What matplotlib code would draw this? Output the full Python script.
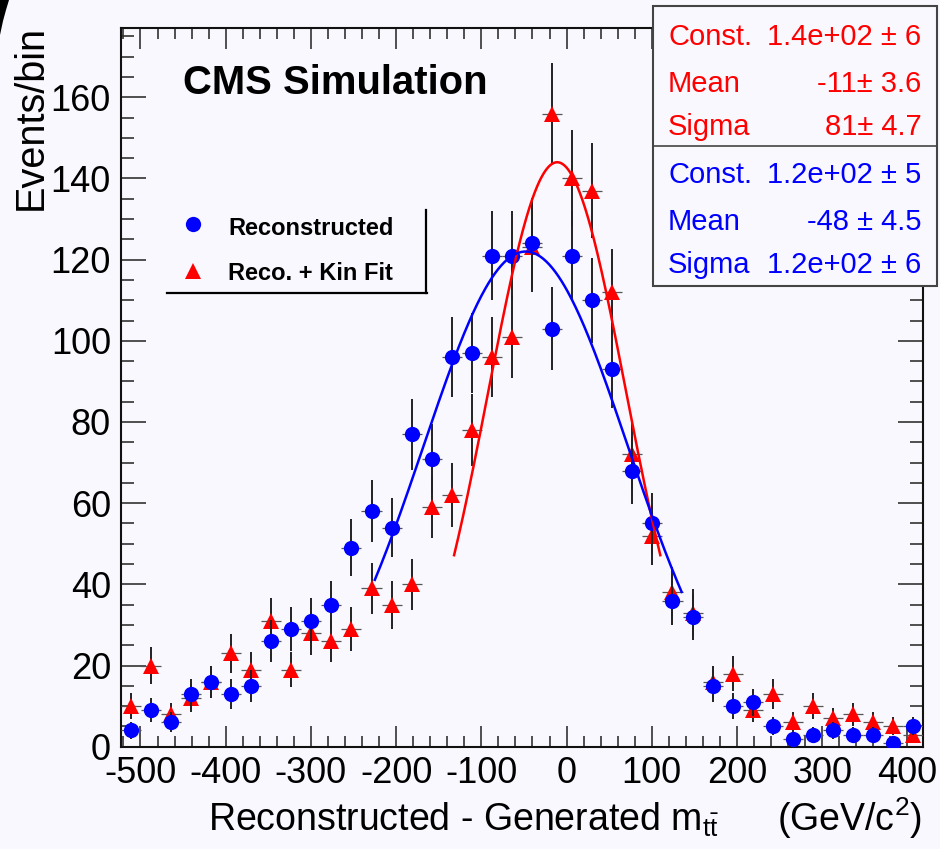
import numpy as np
import matplotlib.pyplot as plt
from matplotlib.lines import Line2D
from matplotlib.patches import Rectangle, Polygon
from matplotlib.ticker import MultipleLocator

plt.rcParams['font.family'] = ['Liberation Sans', 'DejaVu Sans']
plt.rcParams['mathtext.fontset'] = 'custom'
plt.rcParams['mathtext.rm'] = 'Liberation Sans'
plt.rcParams['mathtext.it'] = 'Liberation Sans'
plt.rcParams['mathtext.default'] = 'regular'
plt.rcParams['axes.unicode_minus'] = False

# histogram binning (GeV/c^2)
x_lo, x_hi = -523.2, 418.6
n_bins = 40

# events per bin
reco = [4, 9, 6, 13, 16, 13, 15, 26, 29, 31,
        35, 49, 58, 54, 77, 71, 96, 97, 121, 121,
        124, 103, 121, 110, 93, 68, 55, 36, 32, 15,
        10, 11, 5, 2, 3, 4, 3, 3, 1, 5]
kinfit = [10, 20, 8, 12, 16, 23, 19, 31, 19, 28,
          26, 29, 39, 35, 40, 59, 62, 78, 96, 101,
          123, 156, 140, 137, 112, 72, 52, 38, 33, 16,
          18, 9, 13, 6, 10, 7, 8, 6, 5, 3]

# gaussian fit results (const, mean, sigma) and fit ranges
reco_fit = [122, -48, 120]
reco_fit_range = [-225, 135]
kinfit_fit = [144, -11, 81]
kinfit_fit_range = [-132, 110]

stat_names = ['Const.', 'Mean', 'Sigma']
kinfit_stats = ['1.4e+02 \u00b1 6', '-11\u00b1 3.6', '81\u00b1 4.7']
reco_stats = ['1.2e+02 \u00b1 5', '-48 \u00b1 4.5', '1.2e+02 \u00b1 6']

W, H = 940, 849
bg = '#f8f8fe'


def fx(px):
    return px / W


def fy(py):
    return 1 - py / H


def gaus(x, c, m, s):
    return c * np.exp(-0.5 * ((x - m) / s) ** 2)


edges = np.linspace(x_lo, x_hi, n_bins + 1)
centers = 0.5 * (edges[1:] + edges[:-1])
half = 0.5 * (edges[1] - edges[0])
reco = np.array(reco)
kinfit = np.array(kinfit)

fig = plt.figure(figsize=(W / 100, H / 100), dpi=100, facecolor=bg)
ax = fig.add_axes([fx(120.7), fy(746.7), (923.3 - 120.7) / W, (746.7 - 28.3) / H])
ax.set_facecolor(bg)

for vals, col, mk, ms, z in [(kinfit, 'red', '^', 11.5, 3), (reco, 'blue', 'o', 11, 5)]:
    ax.errorbar(centers, vals, xerr=half, fmt='none', ecolor='#555555',
                elinewidth=0.9, zorder=z)
    ax.errorbar(centers, vals, yerr=np.sqrt(vals), fmt='none', ecolor='#222222',
                elinewidth=1.4, zorder=z)
    ax.plot(centers, vals, ls='none', marker=mk, ms=ms, color=col,
            markeredgewidth=0, zorder=z + 1)

xs = np.linspace(kinfit_fit_range[0], kinfit_fit_range[1], 300)
ax.plot(xs, gaus(xs, *kinfit_fit), color='red', lw=1.8, zorder=7)
xs = np.linspace(reco_fit_range[0], reco_fit_range[1], 300)
ax.plot(xs, gaus(xs, *reco_fit), color='blue', lw=1.8, zorder=8)

ax.set_xlim(x_lo, x_hi)
ax.set_ylim(0, 177)
ax.xaxis.set_major_locator(MultipleLocator(100))
ax.xaxis.set_minor_locator(MultipleLocator(20))
ax.yaxis.set_major_locator(MultipleLocator(20))
ax.yaxis.set_minor_locator(MultipleLocator(5))
ax.tick_params(which='both', direction='in', top=True, right=True,
               color='#333333', width=1.2, labelsize=26)
ax.tick_params(axis='x', which='major', length=15, pad=7)
ax.tick_params(axis='x', which='minor', length=8)
ax.tick_params(axis='y', which='major', length=18, pad=7)
ax.tick_params(axis='y', which='minor', length=9.5)
for sp in ax.spines.values():
    sp.set_linewidth(1.5)
    sp.set_color('#111111')

# x title, split in two pieces to follow the wide spacing of the original
fig.text(fx(208), fy(831), r'Reconstructed - Generated m$_{t\bar{t}}$',
         ha='left', va='baseline', fontsize=27)
fig.text(fx(922), fy(831), r'(GeV/c$^{2}$)', ha='right', va='baseline', fontsize=27)
fig.text(fx(12), fy(25), 'Events/bin', rotation=90, ha='left', va='top', fontsize=28.5)

fig.text(fx(183), fy(94), 'CMS Simulation', fontsize=28.8, fontweight='bold',
         ha='left', va='baseline')

# legend
ax.plot([fx(192.7)], [fy(224)], marker='o', ms=11, color='blue', ls='none',
        transform=fig.transFigure, markeredgewidth=0, clip_on=False)
ax.plot([fx(192.7)], [fy(270.7)], marker='^', ms=11, color='red', ls='none',
        transform=fig.transFigure, markeredgewidth=0, clip_on=False)
fig.text(fx(228), fy(235), 'Reconstructed', fontsize=17, fontweight='bold', va='baseline')
fig.text(fx(228), fy(280), 'Reco. + Kin Fit', fontsize=17, fontweight='bold', va='baseline')
fig.add_artist(Line2D([fx(167), fx(427)], [fy(293), fy(293)], color='black', lw=1.6))
fig.add_artist(Line2D([fx(426), fx(426)], [fy(210), fy(293)], color='black', lw=1.6))

# stats box
fig.add_artist(Rectangle((fx(653), fy(286)), 284 / W, 280 / H, transform=fig.transFigure,
                         facecolor=bg, edgecolor='#444444', lw=1.5, zorder=10))
fig.add_artist(Line2D([fx(653), fx(937)], [fy(145.7), fy(145.7)], color='#444444',
                      lw=1.2, zorder=11))
base_y = [45, 91.7, 135, 183.3, 230, 273.3]
rows = [(n, v, 'red') for n, v in zip(stat_names, kinfit_stats)] + \
       [(n, v, 'blue') for n, v in zip(stat_names, reco_stats)]
for (name, val, col), by in zip(rows, base_y):
    fig.text(fx(668), fy(by), name, color=col, fontsize=21, va='baseline', zorder=12)
    fig.text(fx(921.5), fy(by), val, color=col, fontsize=21, va='baseline',
             ha='right', zorder=12)

# dark rounded corner in the top left of the image
fig.add_artist(Polygon([(fx(0), fy(0)), (fx(9), fy(0)), (fx(6), fy(10)), (fx(3), fy(21)),
                        (fx(0), fy(35))], closed=True, transform=fig.transFigure,
                       facecolor='black', edgecolor='none', zorder=12))

fig.savefig('out.png', dpi=100, facecolor=bg)
